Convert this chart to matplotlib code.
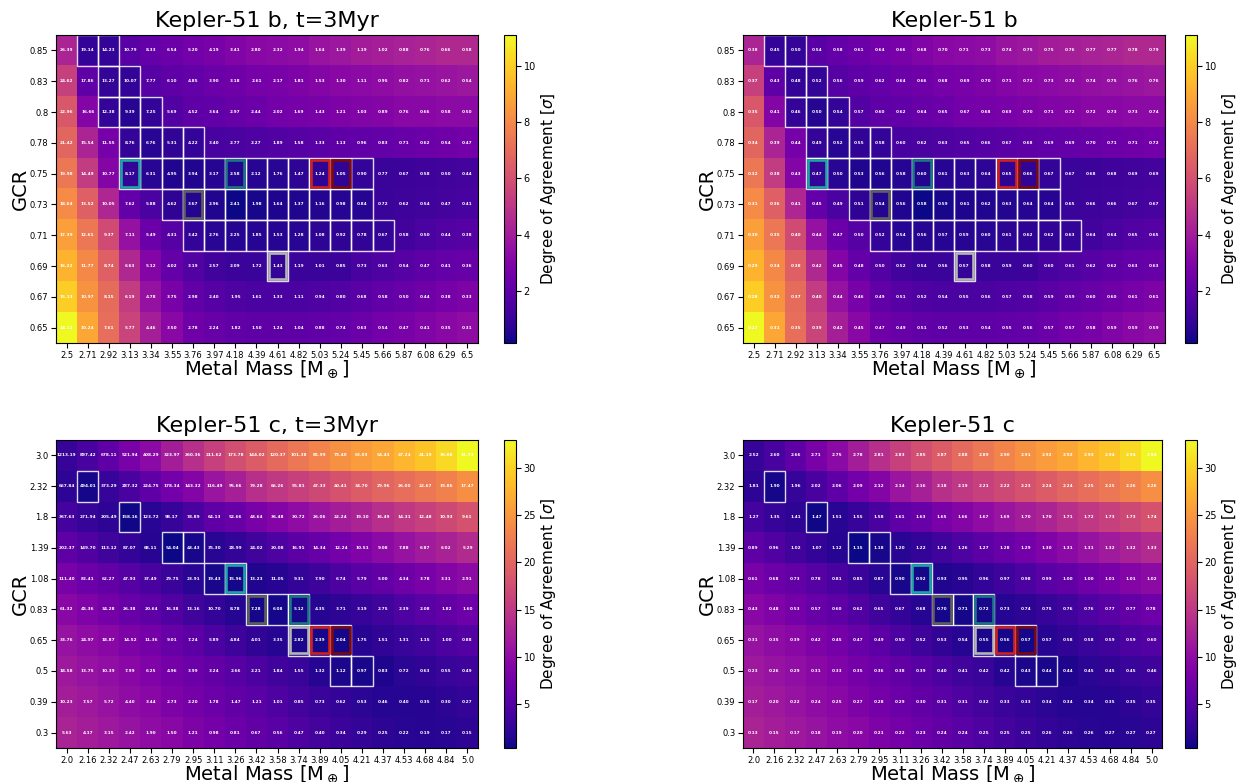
import numpy as np
import matplotlib.pyplot as plt
from matplotlib.patches import Rectangle

# ---- axes labels ----
mass_b = [2.5, 2.71, 2.92, 3.13, 3.34, 3.55, 3.76, 3.97, 4.18, 4.39,
          4.61, 4.82, 5.03, 5.24, 5.45, 5.66, 5.87, 6.08, 6.29, 6.5]
gcr_b = [0.85, 0.83, 0.8, 0.78, 0.75, 0.73, 0.71, 0.69, 0.67, 0.65]
mass_c = [2.0, 2.16, 2.32, 2.47, 2.63, 2.79, 2.95, 3.11, 3.26, 3.42,
          3.58, 3.74, 3.89, 4.05, 4.21, 4.37, 4.53, 4.68, 4.84, 5.0]
gcr_c = [3.0, 2.32, 1.8, 1.39, 1.08, 0.83, 0.65, 0.5, 0.39, 0.3]

# ---- degree of agreement (colour), Kepler-51 b ----
agree_b = [
    [4.3, 0.9, 0.9, 1.9, 2.2, 2.4, 2.6, 2.8, 3.0, 3.2, 3.3, 3.4, 3.7, 3.8, 4.0, 4.1, 4.2, 4.3, 4.5, 4.5],
    [5.4, 2.0, 0.9, 0.9, 1.8, 2.0, 2.2, 2.4, 2.5, 2.7, 2.8, 2.9, 3.1, 3.2, 3.3, 3.4, 3.5, 3.6, 3.7, 3.8],
    [6.3, 3.1, 0.95, 0.6, 0.95, 1.7, 2.0, 2.1, 2.3, 2.4, 2.6, 2.7, 2.8, 2.9, 3.0, 3.1, 3.2, 3.2, 3.3, 3.3],
    [6.8, 4.3, 2.7, 0.9, 0.7, 0.85, 0.95, 1.4, 1.5, 1.6, 1.7, 1.8, 1.9, 2.0, 2.1, 2.2, 2.3, 2.4, 2.5, 2.6],
    [7.4, 5.2, 3.1, 0.9, 0.7, 0.5, 0.5, 0.6, 0.55, 0.65, 0.7, 0.75, 0.8, 0.85, 0.95, 1.05, 1.1, 1.2, 1.3, 1.35],
    [8.1, 6.6, 4.4, 2.2, 1.5, 0.8, 0.55, 0.5, 0.15, 0.35, 0.45, 0.5, 0.55, 0.6, 0.65, 1.05, 1.15, 1.25, 1.35, 1.4],
    [8.7, 7.4, 5.8, 3.6, 2.4, 1.8, 0.9, 0.7, 0.6, 0.6, 0.65, 0.7, 0.75, 0.8, 0.85, 0.95, 1.3, 1.5, 1.7, 1.8],
    [9.3, 8.0, 6.6, 4.5, 3.1, 2.2, 1.7, 1.3, 1.1, 1.05, 0.95, 1.05, 1.05, 1.1, 1.4, 1.6, 1.8, 2.0, 2.2, 2.3],
    [10.0, 8.3, 7.0, 5.2, 3.6, 2.8, 2.1, 1.8, 1.6, 1.5, 1.5, 1.5, 1.6, 1.7, 1.9, 2.1, 2.3, 2.5, 2.7, 2.9],
    [11.1, 8.9, 7.1, 5.5, 4.1, 3.2, 2.5, 2.3, 2.1, 2.0, 2.0, 2.0, 2.1, 2.2, 2.4, 2.6, 2.8, 3.0, 3.2, 3.4],
]

# ---- degree of agreement (colour), Kepler-51 c ----
agree_c = [
    [2.8, 4.1, 5.8, 8.0, 9.7, 12.0, 14.0, 16.0, 17.6, 19.0, 20.5, 22.0, 23.2, 24.5, 25.5, 26.5, 27.8, 29.0, 30.7, 33.0],
    [2.2, 0.8, 2.8, 4.2, 6.0, 7.7, 9.0, 11.0, 12.3, 14.0, 15.0, 16.0, 17.0, 18.0, 19.0, 20.0, 21.0, 22.0, 23.0, 24.3],
    [3.8, 2.8, 2.1, 0.5, 1.9, 2.8, 4.2, 5.8, 6.8, 8.0, 9.0, 10.0, 11.0, 12.0, 12.7, 14.0, 15.0, 16.0, 17.0, 18.0],
    [6.0, 4.8, 3.5, 2.5, 1.8, 0.3, 0.9, 1.9, 2.7, 3.5, 4.7, 5.7, 6.6, 7.6, 8.7, 9.7, 10.7, 11.7, 12.5, 13.5],
    [8.0, 7.0, 6.2, 5.2, 4.2, 3.0, 1.9, 0.9, 0.8, 1.4, 1.8, 2.5, 3.3, 4.5, 5.5, 6.3, 7.3, 8.1, 9.0, 9.8],
    [9.4, 8.7, 7.8, 6.8, 5.8, 4.8, 3.5, 2.5, 1.6, 0.8, 0.7, 0.9, 1.6, 2.1, 2.8, 3.5, 4.6, 5.5, 6.3, 7.1],
    [10.7, 10.0, 9.4, 8.6, 7.8, 6.8, 5.7, 4.5, 3.3, 2.4, 1.7, 0.95, 0.8, 0.8, 1.8, 2.4, 2.9, 3.6, 4.4, 5.1],
    [11.3, 10.7, 10.2, 9.4, 8.7, 7.8, 7.0, 6.2, 5.3, 4.4, 3.6, 2.9, 1.6, 0.95, 0.9, 1.3, 2.0, 2.4, 2.9, 3.4],
    [12.0, 11.3, 10.7, 10.0, 9.4, 8.6, 7.8, 7.0, 6.3, 5.5, 4.7, 3.9, 3.1, 2.5, 2.0, 1.7, 1.6, 1.8, 2.1, 2.5],
    [12.6, 12.0, 11.3, 10.7, 10.0, 9.4, 8.6, 7.8, 7.0, 6.3, 5.5, 4.7, 3.9, 3.2, 2.6, 2.2, 1.9, 1.8, 1.9, 2.2],
]

# ---- annotated values ----
annot_b_3myr = [
    [26.39, 19.14, 14.23, 10.79, 8.33, 6.54, 5.20, 4.19, 3.41, 2.80, 2.32, 1.94, 1.64, 1.39, 1.19, 1.02, 0.88, 0.76, 0.66, 0.58],
    [24.62, 17.86, 13.27, 10.07, 7.77, 6.10, 4.85, 3.90, 3.18, 2.61, 2.17, 1.81, 1.53, 1.30, 1.11, 0.95, 0.82, 0.71, 0.62, 0.54],
    [22.96, 16.66, 12.38, 9.39, 7.25, 5.69, 4.52, 3.64, 2.97, 2.44, 2.02, 1.69, 1.43, 1.21, 1.03, 0.89, 0.76, 0.66, 0.58, 0.50],
    [21.42, 15.54, 11.55, 8.76, 6.76, 5.31, 4.22, 3.40, 2.77, 2.27, 1.89, 1.58, 1.33, 1.13, 0.96, 0.83, 0.71, 0.62, 0.54, 0.47],
    [19.98, 14.49, 10.77, 8.17, 6.31, 4.95, 3.94, 3.17, 2.58, 2.12, 1.76, 1.47, 1.24, 1.05, 0.90, 0.77, 0.67, 0.58, 0.50, 0.44],
    [18.64, 13.52, 10.05, 7.62, 5.88, 4.62, 3.67, 2.96, 2.41, 1.98, 1.64, 1.37, 1.16, 0.98, 0.84, 0.72, 0.62, 0.54, 0.47, 0.41],
    [17.39, 12.61, 9.37, 7.11, 5.49, 4.31, 3.42, 2.76, 2.25, 1.85, 1.53, 1.28, 1.08, 0.92, 0.78, 0.67, 0.58, 0.50, 0.44, 0.38],
    [16.22, 11.77, 8.74, 6.63, 5.12, 4.02, 3.19, 2.57, 2.09, 1.72, 1.43, 1.19, 1.01, 0.85, 0.73, 0.63, 0.54, 0.47, 0.41, 0.36],
    [15.13, 10.97, 8.15, 6.19, 4.78, 3.75, 2.98, 2.40, 1.95, 1.61, 1.33, 1.11, 0.94, 0.80, 0.68, 0.58, 0.50, 0.44, 0.38, 0.33],
    [14.11, 10.24, 7.61, 5.77, 4.46, 3.50, 2.78, 2.24, 1.82, 1.50, 1.24, 1.04, 0.88, 0.74, 0.63, 0.54, 0.47, 0.41, 0.35, 0.31],
]
annot_b = [
    [0.38, 0.45, 0.50, 0.54, 0.58, 0.61, 0.64, 0.66, 0.68, 0.70, 0.71, 0.73, 0.74, 0.75, 0.75, 0.76, 0.77, 0.77, 0.78, 0.79],
    [0.37, 0.43, 0.48, 0.52, 0.56, 0.59, 0.62, 0.64, 0.66, 0.68, 0.69, 0.70, 0.71, 0.72, 0.73, 0.74, 0.74, 0.75, 0.76, 0.76],
    [0.35, 0.41, 0.46, 0.50, 0.54, 0.57, 0.60, 0.62, 0.64, 0.65, 0.67, 0.68, 0.69, 0.70, 0.71, 0.72, 0.72, 0.73, 0.73, 0.74],
    [0.34, 0.39, 0.44, 0.49, 0.52, 0.55, 0.58, 0.60, 0.62, 0.63, 0.65, 0.66, 0.67, 0.68, 0.69, 0.69, 0.70, 0.71, 0.71, 0.72],
    [0.32, 0.38, 0.43, 0.47, 0.50, 0.53, 0.56, 0.58, 0.60, 0.61, 0.63, 0.64, 0.65, 0.66, 0.67, 0.67, 0.68, 0.68, 0.69, 0.69],
    [0.31, 0.36, 0.41, 0.45, 0.49, 0.51, 0.54, 0.56, 0.58, 0.59, 0.61, 0.62, 0.63, 0.64, 0.64, 0.65, 0.66, 0.66, 0.67, 0.67],
    [0.30, 0.35, 0.40, 0.44, 0.47, 0.50, 0.52, 0.54, 0.56, 0.57, 0.59, 0.60, 0.61, 0.62, 0.62, 0.63, 0.64, 0.64, 0.65, 0.65],
    [0.29, 0.34, 0.38, 0.42, 0.45, 0.48, 0.50, 0.52, 0.54, 0.56, 0.57, 0.58, 0.59, 0.60, 0.60, 0.61, 0.62, 0.62, 0.63, 0.63],
    [0.28, 0.32, 0.37, 0.40, 0.44, 0.46, 0.49, 0.51, 0.52, 0.54, 0.55, 0.56, 0.57, 0.58, 0.59, 0.59, 0.60, 0.60, 0.61, 0.61],
    [0.27, 0.31, 0.35, 0.39, 0.42, 0.45, 0.47, 0.49, 0.51, 0.52, 0.53, 0.54, 0.55, 0.56, 0.57, 0.57, 0.58, 0.59, 0.59, 0.59],
]
annot_c_3myr = [
    [1213.19, 897.42, 678.11, 521.94, 408.29, 323.97, 260.36, 211.62, 173.78, 144.02, 120.37, 101.38, 85.99, 73.40, 63.03, 54.43, 47.24, 41.19, 36.08, 31.73],
    [667.84, 494.01, 373.29, 287.32, 224.75, 178.34, 143.32, 116.49, 95.66, 79.28, 66.26, 55.81, 47.33, 40.41, 34.70, 29.96, 26.00, 22.67, 19.86, 17.47],
    [367.63, 271.94, 205.49, 158.16, 123.72, 98.17, 78.89, 64.13, 52.66, 43.64, 36.48, 30.72, 26.06, 22.24, 19.10, 16.49, 14.31, 12.48, 10.93, 9.61],
    [202.37, 149.70, 113.12, 87.07, 68.11, 54.04, 43.43, 35.30, 28.99, 24.02, 20.08, 16.91, 14.34, 12.24, 10.51, 9.08, 7.88, 6.87, 6.02, 5.29],
    [111.40, 82.41, 62.27, 47.93, 37.49, 29.75, 23.91, 19.43, 15.96, 13.23, 11.05, 9.31, 7.90, 6.74, 5.79, 5.00, 4.34, 3.78, 3.31, 2.91],
    [61.32, 45.36, 34.28, 26.38, 20.64, 16.38, 13.16, 10.70, 8.78, 7.28, 6.08, 5.12, 4.35, 3.71, 3.19, 2.75, 2.39, 2.08, 1.82, 1.60],
    [33.76, 24.97, 18.87, 14.52, 11.36, 9.01, 7.24, 5.89, 4.84, 4.01, 3.35, 2.82, 2.39, 2.04, 1.75, 1.51, 1.31, 1.15, 1.00, 0.88],
    [18.58, 13.75, 10.39, 7.99, 6.25, 4.96, 3.99, 3.24, 2.66, 2.21, 1.84, 1.55, 1.32, 1.12, 0.97, 0.83, 0.72, 0.63, 0.55, 0.49],
    [10.23, 7.57, 5.72, 4.40, 3.44, 2.73, 2.20, 1.78, 1.47, 1.21, 1.01, 0.85, 0.73, 0.62, 0.53, 0.46, 0.40, 0.35, 0.30, 0.27],
    [5.63, 4.17, 3.15, 2.42, 1.90, 1.50, 1.21, 0.98, 0.81, 0.67, 0.56, 0.47, 0.40, 0.34, 0.29, 0.25, 0.22, 0.19, 0.17, 0.15],
]
annot_c = [
    [2.52, 2.60, 2.66, 2.71, 2.75, 2.78, 2.81, 2.83, 2.85, 2.87, 2.88, 2.89, 2.90, 2.91, 2.92, 2.92, 2.93, 2.94, 2.94, 2.94],
    [1.81, 1.90, 1.96, 2.02, 2.06, 2.09, 2.12, 2.14, 2.16, 2.18, 2.19, 2.21, 2.22, 2.23, 2.24, 2.24, 2.25, 2.25, 2.26, 2.26],
    [1.27, 1.35, 1.41, 1.47, 1.51, 1.55, 1.58, 1.61, 1.63, 1.65, 1.66, 1.67, 1.69, 1.70, 1.70, 1.71, 1.72, 1.73, 1.73, 1.74],
    [0.89, 0.96, 1.02, 1.07, 1.12, 1.15, 1.18, 1.20, 1.22, 1.24, 1.26, 1.27, 1.28, 1.29, 1.30, 1.31, 1.31, 1.32, 1.32, 1.33],
    [0.61, 0.68, 0.73, 0.78, 0.81, 0.85, 0.87, 0.90, 0.92, 0.93, 0.95, 0.96, 0.97, 0.98, 0.99, 1.00, 1.00, 1.01, 1.01, 1.02],
    [0.43, 0.48, 0.53, 0.57, 0.60, 0.62, 0.65, 0.67, 0.68, 0.70, 0.71, 0.72, 0.73, 0.74, 0.75, 0.76, 0.76, 0.77, 0.77, 0.78],
    [0.31, 0.35, 0.39, 0.42, 0.45, 0.47, 0.49, 0.50, 0.52, 0.53, 0.54, 0.55, 0.56, 0.57, 0.57, 0.58, 0.58, 0.59, 0.59, 0.60],
    [0.23, 0.26, 0.29, 0.31, 0.33, 0.35, 0.36, 0.38, 0.39, 0.40, 0.41, 0.42, 0.42, 0.43, 0.44, 0.44, 0.45, 0.45, 0.45, 0.46],
    [0.17, 0.20, 0.22, 0.24, 0.25, 0.27, 0.28, 0.29, 0.30, 0.31, 0.31, 0.32, 0.33, 0.33, 0.34, 0.34, 0.34, 0.35, 0.35, 0.35],
    [0.13, 0.15, 0.17, 0.18, 0.19, 0.20, 0.21, 0.22, 0.23, 0.24, 0.24, 0.25, 0.25, 0.25, 0.26, 0.26, 0.26, 0.27, 0.27, 0.27],
]

# ---- boxed cells (row, col) ----
boxes_b = ([(0, 1), (0, 2), (1, 2), (1, 3), (2, 2), (2, 3), (2, 4)]
           + [(3, j) for j in range(3, 7)] + [(4, j) for j in range(3, 15)]
           + [(5, j) for j in range(5, 15)] + [(6, j) for j in range(6, 16)]
           + [(7, 10)])
marks_b = [((4, 3), '#1fa3a6'), ((4, 8), '#1c7485'), ((4, 12), '#d0201e'),
           ((4, 13), '#7a0a10'), ((5, 6), '#5e5e5e'), ((7, 10), '#b4b4b4')]
boxes_c = [(1, 1), (2, 3), (3, 5), (3, 6), (4, 7), (4, 8), (5, 9), (5, 10),
           (5, 11), (6, 11), (6, 12), (6, 13), (7, 13), (7, 14)]
marks_c = [((4, 8), '#1fa3a6'), ((5, 9), '#5e5e5e'), ((5, 11), '#1c7485'),
           ((6, 11), '#b4b4b4'), ((6, 12), '#d0201e'), ((6, 13), '#7a0a10')]


def panel(ax, cax, agree, annot, xl, yl, title, boxes, marks, cticks):
    im = ax.imshow(np.array(agree), cmap='plasma', aspect='auto')
    vals = np.array(annot)
    for i in range(vals.shape[0]):
        for j in range(vals.shape[1]):
            ax.text(j, i, f"{vals[i, j]:.2f}", ha='center', va='center',
                    color='white', fontsize=3.1, fontweight='bold')
    for (i, j) in boxes:
        ax.add_patch(Rectangle((j - 0.5, i - 0.5), 1, 1, fill=False,
                               edgecolor='white', lw=1.0, alpha=0.85))
    for (i, j), c in marks:
        ax.add_patch(Rectangle((j - 0.42, i - 0.43), 0.84, 0.86, fill=False,
                               edgecolor=c, lw=1.9))
    ax.set_xticks(range(len(xl)))
    ax.set_xticklabels([str(v) for v in xl], fontsize=6)
    ax.set_yticks(range(len(yl)))
    ax.set_yticklabels([str(v) for v in yl], fontsize=6)
    ax.tick_params(pad=2)
    ax.set_xlim(-0.5, len(xl) - 0.5)
    ax.set_ylim(len(yl) - 0.5, -0.5)
    ax.set_title(title, fontsize=16)
    ax.set_xlabel(r"Metal Mass [M$_\oplus$]", fontsize=14, labelpad=-1)
    ax.set_ylabel("GCR", fontsize=14, labelpad=0)
    cb = fig.colorbar(im, cax=cax)
    cb.set_ticks(cticks)
    cb.ax.tick_params(labelsize=7, pad=2)
    cb.set_label(r"Degree of Agreement [$\sigma$]", fontsize=11, labelpad=2)


fig = plt.figure(figsize=(12.37, 7.82), dpi=100)
W, H = 1237, 782


def box(x0, y0, x1, y1):
    return [x0 / W, 1 - y1 / H, (x1 - x0) / W, (y1 - y0) / H]


ax1 = fig.add_axes(box(56, 35, 478, 343))
cax1 = fig.add_axes(box(504, 35, 516, 343))
ax2 = fig.add_axes(box(743, 35, 1165, 343))
cax2 = fig.add_axes(box(1185, 35, 1197, 343))
ax3 = fig.add_axes(box(56, 440, 478, 748))
cax3 = fig.add_axes(box(504, 440, 516, 748))
ax4 = fig.add_axes(box(743, 440, 1162, 748))
cax4 = fig.add_axes(box(1185, 440, 1197, 748))

panel(ax1, cax1, agree_b, annot_b_3myr, mass_b, gcr_b, "Kepler-51 b, t=3Myr",
      boxes_b, marks_b, [2, 4, 6, 8, 10])
panel(ax2, cax2, agree_b, annot_b, mass_b, gcr_b, "Kepler-51 b",
      boxes_b, marks_b, [2, 4, 6, 8, 10])
panel(ax3, cax3, agree_c, annot_c_3myr, mass_c, gcr_c, "Kepler-51 c, t=3Myr",
      boxes_c, marks_c, [5, 10, 15, 20, 25, 30])
panel(ax4, cax4, agree_c, annot_c, mass_c, gcr_c, "Kepler-51 c",
      boxes_c, marks_c, [5, 10, 15, 20, 25, 30])

fig.savefig("out.png", dpi=100)
